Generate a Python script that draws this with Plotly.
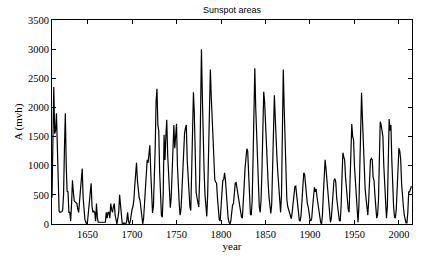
import plotly.graph_objects as go

first_year = 1610
last_year = 2014

area_1610s = [450, 1500, 2350, 1550, 1600, 1900, 1200, 350, 220, 200]
area_1620s = [200, 210, 240, 500, 1300, 1900, 1000, 560, 550, 200]
area_1630s = [200, 50, 350, 750, 550, 400, 380, 370, 350, 250]
area_1640s = [200, 400, 600, 800, 950, 450, 150, 80, 30, 0]
area_1650s = [50, 200, 350, 500, 700, 300, 200, 220, 200, 50]
area_1660s = [350, 100, 30, 30, 30, 30, 30, 30, 30, 30]
area_1670s = [30, 200, 100, 200, 200, 100, 350, 250, 200, 300]
area_1680s = [350, 150, 80, 0, 100, 200, 500, 300, 50, 0]
area_1690s = [0, 20, 0, 0, 50, 200, 50, 0, 50, 200]
area_1700s = [250, 300, 400, 650, 900, 1050, 750, 550, 450, 400]
area_1710s = [250, 80, 0, 100, 400, 750, 1000, 1100, 1050, 1200]
area_1720s = [1350, 900, 400, 190, 300, 700, 1300, 2100, 2320, 1700]
area_1730s = [1600, 900, 400, 150, 115, 500, 1530, 1100, 1500, 1790]
area_1740s = [1200, 800, 400, 280, 450, 900, 1300, 1700, 1300, 1550]
area_1750s = [1720, 1000, 600, 350, 150, 250, 550, 900, 1300, 1550]
area_1760s = [1650, 1700, 1100, 750, 500, 300, 230, 800, 1500, 2260]
area_1770s = [1900, 1100, 550, 450, 350, 290, 800, 2000, 3000, 2200]
area_1780s = [1400, 900, 500, 250, 130, 500, 1400, 2300, 2650, 2200]
area_1790s = [1800, 1350, 1000, 760, 720, 700, 450, 250, 80, 50]
area_1800s = [300, 550, 750, 760, 880, 750, 450, 250, 100, 30]
area_1810s = [0, 50, 200, 330, 350, 500, 700, 710, 600, 550]
area_1820s = [400, 250, 180, 120, 100, 300, 650, 950, 1200, 1290]
area_1830s = [1250, 800, 400, 170, 150, 400, 1100, 2000, 2670, 2000]
area_1840s = [1500, 1000, 550, 300, 200, 400, 900, 1600, 2270, 2100]
area_1850s = [1700, 1300, 1000, 700, 450, 250, 180, 350, 900, 1600]
area_1860s = [2210, 1800, 1300, 1100, 850, 600, 350, 200, 500, 1400]
area_1870s = [2650, 2000, 1300, 800, 420, 300, 250, 180, 120, 90]
area_1880s = [200, 400, 580, 640, 650, 500, 300, 150, 70, 50]
area_1890s = [150, 400, 750, 880, 850, 650, 450, 350, 300, 150]
area_1900s = [80, 50, 100, 300, 500, 630, 550, 600, 450, 350]
area_1910s = [200, 80, 30, 0, 150, 500, 850, 1100, 950, 750]
area_1920s = [500, 300, 150, 30, 100, 350, 600, 750, 780, 720]
area_1930s = [450, 280, 150, 60, 50, 300, 800, 1224, 1150, 1100]
area_1940s = [800, 600, 400, 250, 200, 600, 1300, 1715, 1500, 1450]
area_1950s = [1000, 700, 400, 100, 30, 300, 1000, 2000, 2253, 1800]
area_1960s = [1400, 900, 600, 450, 200, 150, 400, 800, 1100, 1126]
area_1970s = [1100, 800, 750, 500, 350, 100, 150, 400, 1100, 1755]
area_1980s = [1700, 1550, 1500, 1000, 600, 250, 100, 300, 1100, 1800]
area_1990s = [1600, 1700, 1100, 600, 300, 120, 100, 250, 700, 1000]
area_2000s = [1300, 1250, 1100, 700, 400, 300, 150, 60, 20, 20]
area_2010s = [200, 550, 550, 600, 650]

area = (area_1610s + area_1620s + area_1630s + area_1640s + area_1650s + area_1660s
        + area_1670s + area_1680s + area_1690s + area_1700s + area_1710s + area_1720s
        + area_1730s + area_1740s + area_1750s + area_1760s + area_1770s + area_1780s
        + area_1790s + area_1800s + area_1810s + area_1820s + area_1830s + area_1840s
        + area_1850s + area_1860s + area_1870s + area_1880s + area_1890s + area_1900s
        + area_1910s + area_1920s + area_1930s + area_1940s + area_1950s + area_1960s
        + area_1970s + area_1980s + area_1990s + area_2000s + area_2010s)
years = list(range(first_year, last_year + 1))
assert len(years) == len(area)

x_ticks = [1650, 1700, 1750, 1800, 1850, 1900, 1950, 2000]
y_ticks = [0, 500, 1000, 1500, 2000, 2500, 3000, 3500]

fig = go.Figure()
fig.add_trace(go.Scatter(x=years, y=area, mode="lines",
                         line=dict(color="black", width=1.2), showlegend=False,
                         hoverinfo="skip"))

serif = "Times New Roman, Times, serif"
axis_common = dict(showline=True, linecolor="black", linewidth=1, mirror="ticks",
                   ticks="inside", ticklen=4, tickcolor="black", tickwidth=1,
                   showgrid=False, zeroline=False,
                   tickfont=dict(family=serif, size=10.5, color="black"))

fig.update_layout(
    width=436, height=264,
    margin=dict(l=52, r=24, t=20, b=40),
    paper_bgcolor="white", plot_bgcolor="white",
    title=dict(text="Sunspot areas", x=0.5, xref="paper", xanchor="center",
               y=1 - 10 / 264, yref="container", yanchor="middle",
               font=dict(family="Liberation Sans, Arial, sans-serif", size=9, color="black")),
    xaxis=dict(range=[1610, 2014.7], tickvals=x_ticks,
               title=dict(text="year", standoff=1,
                          font=dict(family=serif, size=11, color="black")),
               **axis_common),
    yaxis=dict(range=[0, 3500], tickvals=y_ticks,
               title=dict(text="A (mvh)", standoff=3,
                          font=dict(family=serif, size=11, color="black")),
               **axis_common),
)

fig.write_html("out.html", config={"displayModeBar": False},
               post_script="document.body.style.margin='0';document.body.style.overflow='hidden';")
